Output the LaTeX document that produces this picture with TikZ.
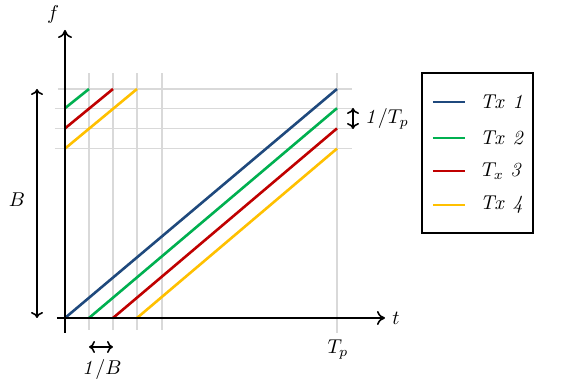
\documentclass[tikz,border=0pt]{standalone}
\usepackage{amsmath,amssymb}
\usetikzlibrary{arrows.meta}

\definecolor{txblue}{RGB}{31,73,125}
\definecolor{txgreen}{RGB}{0,176,80}
\definecolor{txred}{RGB}{192,0,0}
\definecolor{txyellow}{RGB}{255,192,0}

\tikzset{
  gridline/.style={color=black!15, line width=0.6pt},
  axisline/.style={thick, -{To[length=4pt,width=7pt]}},
  chirp/.style={line width=1.3pt},
  span/.style={thick, {To[length=3pt,width=6pt]}-{To[length=3pt,width=6pt]}}
}

\begin{document}
\begin{tikzpicture}[x=0.5pt, y=0.5pt]
              \useasboundingbox (-65,-71) rectangle (505,318);
              % grid
              \draw[gridline] (24,-12) -- (24,245);
              \draw[gridline] (48,-12) -- (48,245);
              \draw[gridline] (72,-12) -- (72,245);
              \draw[gridline] (97,-12) -- (97,245);
              \draw[gridline] (272,-15) -- (272,245);
              \draw[gridline] (-7,229) -- (287,229);
              \draw[gridline] (-10,209.8) -- (287,209.8);
              \draw[gridline] (-10,189.6) -- (287,189.6);
              \draw[gridline] (-10,169.4) -- (287,169.4);
              % chirps
              \draw[chirp, txblue] (0,0) -- (272,229);
              \draw[chirp, txgreen] (24,0) -- (272,209.8);
              \draw[chirp, txgreen] (0,209.8) -- (24,229);
              \draw[chirp, txred] (48,0) -- (272,189.6);
              \draw[chirp, txred] (0,189.6) -- (48,229);
              \draw[chirp, txyellow] (72,0) -- (272,169.4);
              \draw[chirp, txyellow] (0,169.4) -- (72,229);
              % axes
              \draw[axisline] (-8,0) -- (320,0) node[right] (t) {$t$};
              \draw[axisline] (0,-15) -- (0,288);
              \node (f) at (-12,303) {$f$};
              \node (tp) at (273,-32) {$T_p$};
              % spans
              \coordinate (b0) at (-28,0);
              \coordinate (b1) at (-28,229);
              \draw[span] (b0) -- (b1);
              \node (bw) at (-48,118) {$B$};
              \coordinate (d0) at (24,-29);
              \coordinate (d1) at (48,-29);
              \draw[span] (d0) -- (d1);
              \node (invb) at (37,-52) {$\mathit{1}/B$};
              \coordinate (p0) at (288,210);
              \coordinate (p1) at (288,189);
              \draw[span] (p0) -- (p1);
              \node[anchor=west] (invtp) at (293,199) {$\mathit{1}/T_p$};
              % legend
              \draw[thick] (357,85) rectangle (468,245);
              \draw[chirp, txblue] (368,216) -- (400,216);
              \node[anchor=west] (l1) at (408,216) {$\mathit{Tx}\ \mathit{1}$};
              \draw[chirp, txgreen] (368,180) -- (400,180);
              \node[anchor=west] (l2) at (408,180) {$\mathit{Tx}\ \mathit{2}$};
              \draw[chirp, txred] (368,147) -- (400,147);
              \node[anchor=west] (l3) at (410,147) {$T_x\ \mathit{3}$};
              \draw[chirp, txyellow] (368,113) -- (400,113);
              \node[anchor=west] (l4) at (408,113) {$\mathit{Tx}\ \mathit{4}$};
          \end{tikzpicture}
\end{document}
